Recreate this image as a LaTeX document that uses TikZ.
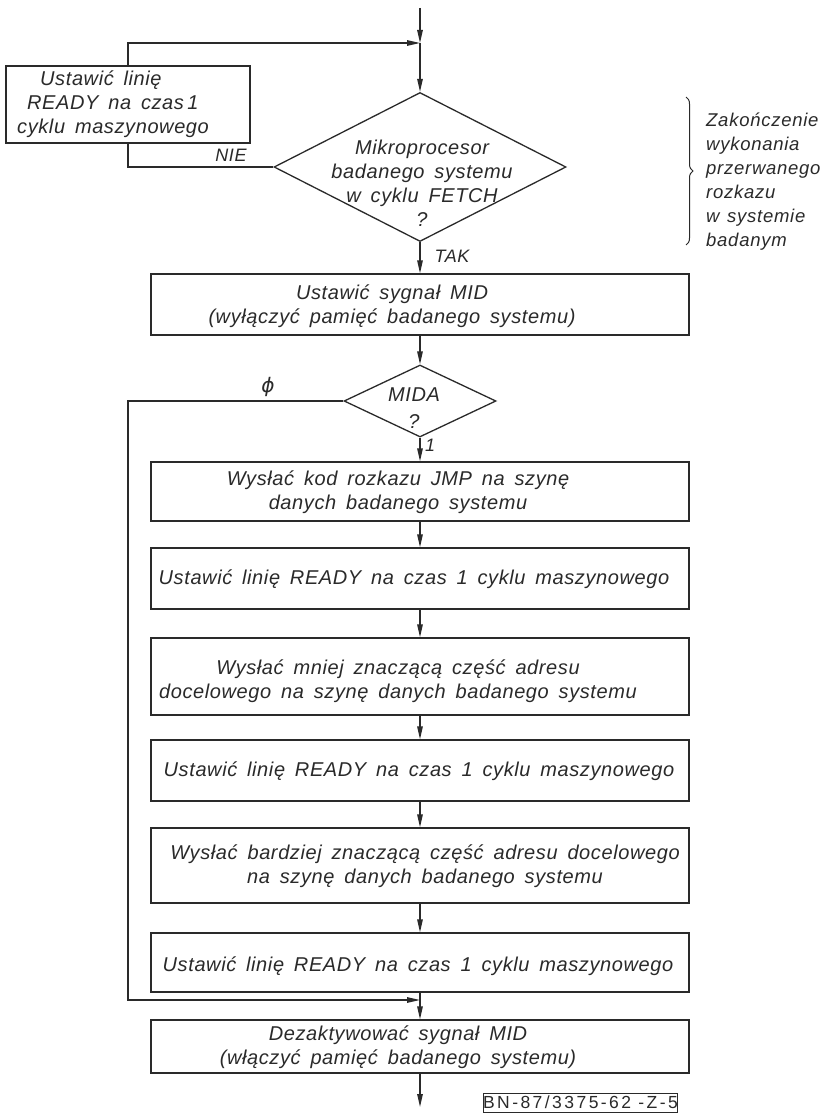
\documentclass[tikz,border=0pt]{standalone}
\usepackage{fontspec}
\setmainfont{Liberation Sans}
\newfontfamily\tech{Liberation Sans}[LetterSpace=3,WordSpace=1.6]
\newfontfamily\techc{Liberation Sans}[LetterSpace=4,WordSpace=1.3]
\newfontfamily\codef{Liberation Sans}[LetterSpace=14]
\newfontfamily\dvs{DejaVu Sans}
\usetikzlibrary{arrows.meta,shapes.geometric,decorations.pathreplacing,calc}
\definecolor{ink}{HTML}{2A2A2A}
\begin{document}
\begin{tikzpicture}[x=1pt,y=-1pt,
  ln/.style={draw=ink,line width=1.3pt},
  arr/.style={ln,-{Triangle[length=13pt,width=5.5pt]}},
  boxnode/.style={draw=ink,line width=1.3pt,rectangle,inner sep=0pt,minimum width=538pt},
  dia/.style={draw=ink,line width=1.3pt,diamond,inner sep=0pt},
  txt/.style={text=ink,font=\tech\itshape\fontsize{20}{24}\selectfont,align=center,inner sep=0pt},
  cmtxt/.style={text=ink,font=\techc\itshape\fontsize{18.5}{24}\selectfont,align=left,inner sep=0pt},
  lbl/.style={text=ink,font=\tech\itshape\fontsize{18}{20}\selectfont,inner sep=0pt}
]
\fill[white] (0,0) rectangle (832,1113);
\useasboundingbox (0,0) rectangle (832,1113);

% coordinates
\coordinate (top) at (420,8);
\coordinate (j1) at (420,43);
\coordinate (c0) at (128,1000);
\coordinate (j2) at (420,1000);
\coordinate (bot) at (420,1107);

% left box
\node[boxnode,minimum width=244pt,minimum height=77pt] (b1) at (128,104.5) {};
\node[txt,align=left,anchor=west] (b1t) at (17,104) {\hspace*{23pt}Ustawić linię\\\hspace*{10pt}READY na czas\,1\\cyklu maszynowego};

% decision 1
\node[dia,minimum width=292pt,minimum height=149pt] (d1) at (420,167) {};
\node[txt] (d1t) at (422,183) {Mikroprocesor\\badanego systemu\\w cyklu FETCH\\?};

% brace and comment
\coordinate (brt) at (686,97);
\coordinate (brb) at (686,245);
\draw[ln,line width=1pt,decorate,decoration={brace,amplitude=7pt}] (brt) -- (brb);
\node[cmtxt,anchor=west] (cmt) at (706,182) {Zakończenie\\wykonania\\przerwanego\\rozkazu\\w systemie\\badanym};

% main boxes
\node[boxnode,minimum height=61pt] (b2) at (420,304.5) {};
\node[txt] (b2t) at (392,306) {Ustawić sygnał MID\\(wyłączyć pamięć badanego systemu)};

\node[dia,minimum width=152pt,minimum height=72pt] (d2) at (420,401) {};
\node[txt] (d2t) at (414,408) {MIDA\\[3pt]?};

\node[boxnode,minimum height=59pt] (b3) at (420,491.5) {};
\node[txt] (b3t) at (398,492) {Wysłać kod rozkazu JMP na szynę\\danych badanego systemu};

\node[boxnode,minimum height=61pt] (b4) at (420,578.5) {};
\node[txt] (b4t) at (414,579) {Ustawić linię READY na czas 1 cyklu maszynowego};

\node[boxnode,minimum height=77pt] (b5) at (420,676.5) {};
\node[txt] (b5t) at (398,681) {Wysłać mniej znaczącą część adresu\\docelowego na szynę danych badanego systemu};

\node[boxnode,minimum height=61pt] (b6) at (420,770.5) {};
\node[txt] (b6t) at (419,771) {Ustawić linię READY na czas 1 cyklu maszynowego};

\node[boxnode,minimum height=75pt] (b7) at (420,865.5) {};
\node[txt] (b7t) at (425,866) {Wysłać bardziej znaczącą część adresu docelowego\\na szynę danych badanego systemu};

\node[boxnode,minimum height=59pt] (b8) at (420,962.5) {};
\node[txt] (b8t) at (418,966) {Ustawić linię READY na czas 1 cyklu maszynowego};

\node[boxnode,minimum height=53pt] (b9) at (420,1046.5) {};
\node[txt] (b9t) at (398,1047) {Dezaktywować sygnał MID\\(włączyć pamięć badanego systemu)};

% code box
\node[draw=ink,line width=1pt,rectangle,inner sep=0pt,minimum width=193pt,minimum height=19pt,
      text=ink,font=\codef\fontsize{17.5}{18}\selectfont] (code) at (580.5,1102.5) {BN-87/3375-62 -Z-5};

% labels
\node[lbl] (nie) at (231,155) {NIE};
\node[lbl] (tak) at (452,256) {TAK};
\node[text=ink,font=\dvs\itshape\fontsize{20}{20}\selectfont,inner sep=0pt] (zero) at (268,387) {ϕ};
\node[lbl] (one) at (430,445) {1};

% connectors
\draw[arr] (top) -- (j1);
\draw[arr] (j1) -- (d1.north);
\draw[ln] (d1.west) -| (b1.south);
\draw[arr] (b1.north) |- (j1);
\draw[arr] (d1.south) -- (b2.north);
\draw[arr] (b2.south) -- (d2.north);
\draw[arr] (d2.south) -- (b3.north);
\draw[arr] (d2.west) -| (c0) -- (j2);
\draw[arr] (b3.south) -- (b4.north);
\draw[arr] (b4.south) -- (b5.north);
\draw[arr] (b5.south) -- (b6.north);
\draw[arr] (b6.south) -- (b7.north);
\draw[arr] (b7.south) -- (b8.north);
\draw[arr] (b8.south) -- (b9.north);
\draw[arr] (b9.south) -- (bot);
\end{tikzpicture}
\end{document}
